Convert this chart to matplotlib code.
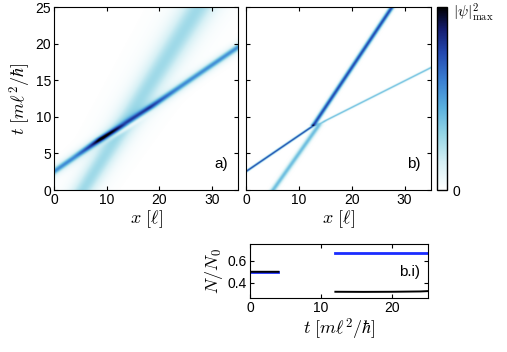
import numpy as np
import matplotlib
matplotlib.use("Agg")
import matplotlib.pyplot as plt
from matplotlib.colors import LinearSegmentedColormap

plt.rcParams['font.family'] = ['Liberation Sans', 'DejaVu Sans']
plt.rcParams['mathtext.fontset'] = 'cm'
plt.rcParams['xtick.direction'] = 'in'
plt.rcParams['ytick.direction'] = 'in'

# --- beam trajectories (t knots, x centre knots) ---
# panel a: narrow soliton
a1_t = [0, 2.5, 7.1, 11.0, 19.5, 25]
a1_x = [-5.1, 0, 9.2, 17.7, 35, 46.3]
a1_amp_t = [0, 4.5, 6.0, 7.0, 8.0, 9.0, 10.2, 11.2, 12.5, 14, 25]
a1_amp = [0.42, 0.45, 0.65, 0.92, 0.66, 0.38, 0.46, 0.6, 0.52, 0.44, 0.42]
# panel a: broad beam
a2_t = [0, 25]
a2_x = [5.5, 27.5]
a2_sig = [2.0, 3.0]

# panel b beams: (t knots, x knots, sigma, amplitude, t_on, t_off)
b_beams = [
    ([0, 2.5, 8.7], [-5.2, 0, 12.6], 0.35, 0.8, -1, 8.8),
    ([0, 8.9], [5.1, 13.8], 0.6, 0.4, -1, 9.0),
    ([8.7, 25], [12.6, 27.6], 0.5, 0.75, 8.7, 99),
    ([8.9, 9.4, 16.7, 25], [13.8, 14.9, 35, 58], 0.4, 0.42, 9.0, 99),
]

# inset b.i: particle fractions
ti = [0, 2, 4, np.nan, 12, 16, 20, 24, 25]
n_blue = [0.5, 0.5, 0.5, np.nan, 0.67, 0.67, 0.67, 0.67, 0.67]
n_black = [0.5, 0.5, 0.5, np.nan, 0.318, 0.317, 0.318, 0.321, 0.324]

cmap = LinearSegmentedColormap.from_list(
    'psi', [(0, 'white'), (0.15, '#d6f0f5'), (0.3, '#96d6e6'), (0.45, '#5ab0de'),
            (0.6, '#3a7fd2'), (0.75, '#2449b0'), (0.88, '#141c6e'), (1, 'black')])

x = np.linspace(0, 35, 800)
t = np.linspace(0, 25, 500)
X, T = np.meshgrid(x, t)


def step(v):
    return 0.5 * (1 + np.tanh(v / 0.15))


# panel a field
xc1 = np.interp(T, a1_t, a1_x)
amp1 = np.interp(T, a1_amp_t, a1_amp)
g1 = amp1 * np.exp(-((X - xc1) / 0.9) ** 2) + 0.12 * np.exp(-((X - xc1) / 2.0) ** 2)
xc2 = np.interp(T, a2_t, a2_x)
s2 = np.interp(T, a2_t, a2_sig)
notch = 1 - 0.95 * np.exp(-((X - xc1 - 1.7) / 0.8) ** 2) * np.exp(-((T - 9.0) / 2.5) ** 2)
g2 = (0.22 * np.exp(-((X - xc2) / s2) ** 2) + 0.06 * np.exp(-((X - xc2) / (2 * s2)) ** 2)) * notch
field_a = g1 + g2

# panel b field
field_b = np.zeros_like(X)
for tk, xk, sig, amp, t_on, t_off in b_beams:
    xc = np.interp(T, tk, xk, left=np.nan)
    g = amp * np.exp(-((X - xc) / sig) ** 2) * step(T - t_on) * step(t_off - T)
    field_b += np.nan_to_num(g)

fig = plt.figure(figsize=(5.07, 3.52), dpi=100)
ax_a = fig.add_axes([0.1065, 0.460, 0.363, 0.520])
ax_b = fig.add_axes([0.485, 0.460, 0.365, 0.520])
cax = fig.add_axes([0.862, 0.460, 0.02, 0.520])
ax_i = fig.add_axes([0.493, 0.153, 0.351, 0.153])

for ax, field, lab in [(ax_a, field_a, 'a)'), (ax_b, field_b, 'b)')]:
    im = ax.imshow(field, extent=[0, 35, 0, 25], origin='lower', aspect='auto',
                   cmap=cmap, vmin=0, vmax=1, interpolation='bilinear')
    ax.set_xlim(0, 35)
    ax.set_ylim(0, 25)
    ax.set_xticks([0, 10, 20, 30])
    ax.set_yticks([0, 5, 10, 15, 20, 25])
    ax.tick_params(labelsize=10, length=3, top=True, right=True, pad=2)
    ax.set_xlabel(r'$x\ [\ell]$', fontsize=13, labelpad=1)
    ax.text(33, 3.6, lab, ha='right', va='center', fontsize=11)

ax_b.set_yticklabels([])
ax_a.set_ylabel(r'$t\ [m\ell^2/\hbar]$', fontsize=13, labelpad=2)

cb = fig.colorbar(im, cax=cax)
cb.set_ticks([0])
cb.set_ticklabels(['0'])
cb.ax.tick_params(length=0, labelsize=10, pad=4)
cb.outline.set_linewidth(1)
fig.text(0.893, 0.962, r'$|\psi|^2_{\max}$', fontsize=11, ha='left', va='center')

ax_i.plot(ti, n_blue, color='#1a2cff', lw=2)
ax_i.plot(ti, n_black, color='black', lw=1.4)
ax_i.set_xlim(0, 25)
ax_i.set_ylim(0.26, 0.75)
ax_i.set_xticks([0, 10, 20])
ax_i.set_yticks([0.4, 0.6])
ax_i.tick_params(labelsize=10, length=3, top=True, right=True, pad=2)
ax_i.set_xlabel(r'$t\ [m\ell^2/\hbar]$', fontsize=13, labelpad=1)
ax_i.set_ylabel(r'$N/N_0$', fontsize=13, labelpad=2)
ax_i.text(23.9, 0.5, 'b.i)', ha='right', va='center', fontsize=11)

fig.savefig('out.png', dpi=100)
